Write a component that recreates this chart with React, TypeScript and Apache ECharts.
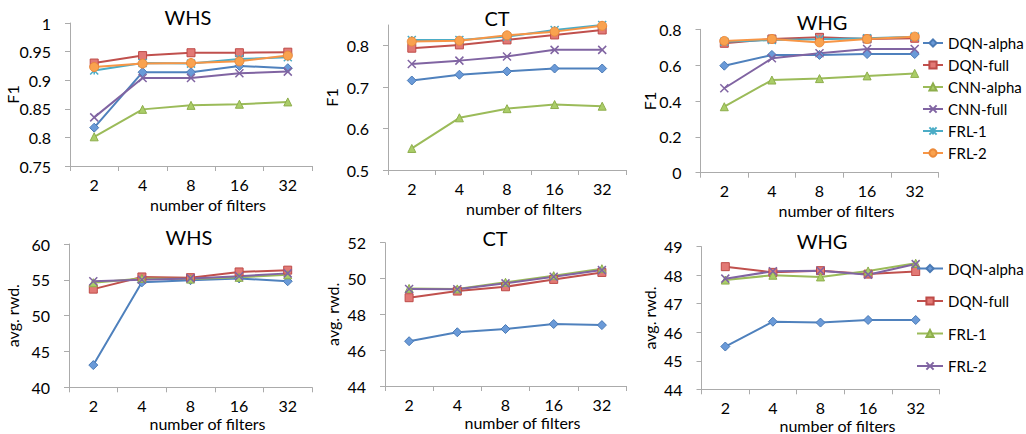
import React, { useEffect, useRef } from "react";
import * as echarts from "echarts";

// ---------- data ----------
const categories = ["2", "4", "8", "16", "32"];

// F1 – WHS
const whsF1DqnAlpha = [0.817, 0.914, 0.914, 0.925, 0.921];
const whsF1DqnFull = [0.93, 0.943, 0.948, 0.948, 0.949];
const whsF1CnnAlpha = [0.801, 0.849, 0.856, 0.858, 0.862];
const whsF1CnnFull = [0.835, 0.904, 0.904, 0.912, 0.915];
const whsF1Frl1 = [0.917, 0.93, 0.929, 0.937, 0.94];
const whsF1Frl2 = [0.923, 0.929, 0.93, 0.933, 0.943];

// F1 – CT
const ctF1DqnAlpha = [0.716, 0.73, 0.738, 0.745, 0.745];
const ctF1DqnFull = [0.794, 0.802, 0.814, 0.826, 0.838];
const ctF1CnnAlpha = [0.552, 0.626, 0.648, 0.658, 0.654];
const ctF1CnnFull = [0.756, 0.764, 0.774, 0.79, 0.79];
const ctF1Frl1 = [0.814, 0.814, 0.822, 0.838, 0.85];
const ctF1Frl2 = [0.81, 0.812, 0.825, 0.834, 0.848];

// F1 – WHG
const whgF1DqnAlpha = [0.597, 0.657, 0.657, 0.662, 0.662];
const whgF1DqnFull = [0.722, 0.746, 0.755, 0.746, 0.75];
const whgF1CnnAlpha = [0.368, 0.517, 0.525, 0.54, 0.554];
const whgF1CnnFull = [0.471, 0.638, 0.666, 0.69, 0.69];
const whgF1Frl1 = [0.731, 0.74, 0.744, 0.75, 0.759];
const whgF1Frl2 = [0.735, 0.746, 0.727, 0.746, 0.759];

// avg. rwd. – WHS
const whsRwdDqnAlpha = [43.1, 54.65, 54.95, 55.2, 54.8];
const whsRwdDqnFull = [53.7, 55.4, 55.3, 56.1, 56.35];
const whsRwdFrl1 = [54.6, 55.2, 55.1, 55.35, 55.7];
const whsRwdFrl2 = [54.8, 55.0, 55.2, 55.5, 55.9];

// avg. rwd. – CT
const ctRwdDqnAlpha = [46.5, 47.0, 47.18, 47.46, 47.4];
const ctRwdDqnFull = [48.93, 49.3, 49.54, 49.95, 50.34];
const ctRwdFrl1 = [49.45, 49.42, 49.79, 50.16, 50.55];
const ctRwdFrl2 = [49.42, 49.4, 49.73, 50.1, 50.47];

// avg. rwd. – WHG
const whgRwdDqnAlpha = [45.5, 46.37, 46.34, 46.43, 46.43];
const whgRwdDqnFull = [48.3, 48.1, 48.16, 48.04, 48.13];
const whgRwdFrl1 = [47.83, 48.0, 47.94, 48.15, 48.42];
const whgRwdFrl2 = [47.88, 48.14, 48.16, 48.02, 48.39];

const topNames = ["DQN-alpha", "DQN-full", "CNN-alpha", "CNN-full", "FRL-1", "FRL-2"];
const bottomNames = ["DQN-alpha", "DQN-full", "FRL-1", "FRL-2"];
const titles = ["WHS", "CT", "WHG", "WHS", "CT", "WHG"];

const yMins = [0.75, 0.5, 0, 40, 44, 44];
const yMaxs = [1, 0.85, 0.8, 60, 52, 49];
const yIntervals = [0.05, 0.1, 0.2, 5, 2, 1];
const ctF1Ticks = [0.5, 0.6, 0.7, 0.8];

// ---------- styles ----------
const FONT = 'Lato, "Open Sans", sans-serif';
const X_PATH = "path://M0,0L10,10M10,0L0,10";
const STAR_PATH = "path://M0,0L10,10M10,0L0,10M5,0L5,10";

type St = { line: string; fill: string; border: string; symbol: string; size: number; bw: number };
const S_BLUE: St = { line: "#4F81BD", fill: "#6A9AD8", border: "#4A7AB5", symbol: "diamond", size: 9, bw: 1 };
const S_RED: St = { line: "#C0504D", fill: "#E27975", border: "#BE4B48", symbol: "rect", size: 8, bw: 1 };
const S_GREEN: St = { line: "#9BBB59", fill: "#AACD68", border: "#8EAE4C", symbol: "triangle", size: 8, bw: 1 };
const S_PURPLE: St = { line: "#8064A2", fill: "#8064A2", border: "#8064A2", symbol: X_PATH, size: 8, bw: 1.5 };
const S_CYAN: St = { line: "#4BACC6", fill: "#4BACC6", border: "#4BACC6", symbol: STAR_PATH, size: 8, bw: 1.5 };
const S_ORANGE: St = { line: "#F79646", fill: "#F9A24F", border: "#EB8A3A", symbol: "circle", size: 9, bw: 1 };

const grids = [
  { left: 70, top: 23, width: 242, height: 143 },
  { left: 388, top: 25, width: 238, height: 145 },
  { left: 700.5, top: 29.3, width: 238, height: 143.4 },
  { left: 69, top: 244, width: 243, height: 143.3 },
  { left: 385, top: 242.7, width: 241, height: 143.3 },
  { left: 701.5, top: 246.7, width: 238, height: 142.6 },
];
const yNameGaps = [49.5, 48.5, 43, 48.5, 44.5, 44];
const xNameGaps = [30, 30, 30, 28, 28, 28];
const yNames = ["F1", "F1", "F1", "avg. rwd.", "avg. rwd.", "avg. rwd."];
const titlePos = [
  [188, 16.5],
  [497, 17.5],
  [822, 21.5],
  [189, 236.5],
  [495, 237.5],
  [822, 240.5],
];

function mk(name: string, data: number[], idx: number, s: St) {
  return {
    type: "line",
    name,
    data,
    xAxisIndex: idx,
    yAxisIndex: idx,
    symbol: s.symbol,
    symbolSize: s.size,
    showSymbol: true,
    lineStyle: { color: s.line, width: 2 },
    itemStyle: { color: s.fill, borderColor: s.border, borderWidth: s.bw },
    emphasis: { disabled: true },
    z: 2,
  };
}

function buildOption() {
  const series: any[] = [];
  const topData = [
    [whsF1DqnAlpha, whsF1DqnFull, whsF1CnnAlpha, whsF1CnnFull, whsF1Frl1, whsF1Frl2],
    [ctF1DqnAlpha, ctF1DqnFull, ctF1CnnAlpha, ctF1CnnFull, ctF1Frl1, ctF1Frl2],
    [whgF1DqnAlpha, whgF1DqnFull, whgF1CnnAlpha, whgF1CnnFull, whgF1Frl1, whgF1Frl2],
  ];
  const topStyles = [S_BLUE, S_RED, S_GREEN, S_PURPLE, S_CYAN, S_ORANGE];
  topData.forEach((arrs, p) => {
    arrs.forEach((d, i) => series.push(mk(topNames[i], d, p, topStyles[i])));
  });
  const botData = [
    [whsRwdDqnAlpha, whsRwdDqnFull, whsRwdFrl1, whsRwdFrl2],
    [ctRwdDqnAlpha, ctRwdDqnFull, ctRwdFrl1, ctRwdFrl2],
    [whgRwdDqnAlpha, whgRwdDqnFull, whgRwdFrl1, whgRwdFrl2],
  ];
  const botStyles = [S_BLUE, S_RED, S_GREEN, S_PURPLE];
  botData.forEach((arrs, p) => {
    arrs.forEach((d, i) => series.push(mk("b:" + bottomNames[i], d, p + 3, botStyles[i])));
  });

  const axisColor = "#ABABAB";
  const xAxis = grids.map((_, i) => ({
    type: "category",
    gridIndex: i,
    data: categories,
    boundaryGap: true,
    axisLine: { show: true, lineStyle: { color: axisColor, width: 1 } },
    axisTick: { show: true, length: 5, inside: false, lineStyle: { color: axisColor } },
    axisLabel: { color: "#000", fontFamily: FONT, fontSize: 16, margin: 10 },
    splitLine: { show: false },
    name: "number of filters",
    nameLocation: "middle",
    nameGap: xNameGaps[i],
    nameMoveOverlap: false,
    nameTextStyle: { color: "#000", fontFamily: FONT, fontSize: 16, padding: [0, 0, 0, 34] },
  }));
  const yAxis = grids.map((_, i) => {
    const ax: any = {
      type: "value",
      gridIndex: i,
      min: yMins[i],
      max: yMaxs[i],
      interval: yIntervals[i],
      axisLine: { show: true, lineStyle: { color: axisColor, width: 1 } },
      axisTick: { show: true, length: 5, inside: false, lineStyle: { color: axisColor } },
      axisLabel: { color: "#000", fontFamily: FONT, fontSize: 16, margin: 19 },
      splitLine: { show: false },
      name: yNames[i],
      nameLocation: "middle",
      nameGap: yNameGaps[i],
      nameMoveOverlap: false,
      nameTextStyle: { color: "#000", fontFamily: FONT, fontSize: 16 },
    };
    if (i === 1) {
      ax.axisTick.customValues = ctF1Ticks;
      ax.axisLabel.customValues = ctF1Ticks;
    }
    return ax;
  });

  const legendText = { color: "#000", fontFamily: FONT, fontSize: 15 };
  const legend = [
    {
      data: topNames,
      orient: "vertical",
      left: 922,
      top: 35.5,
      padding: 0,
      itemWidth: 20,
      itemHeight: 9,
      itemGap: 7,
      selectedMode: false,
      textStyle: legendText,
    },
    {
      data: bottomNames.map((n) => "b:" + n),
      orient: "vertical",
      left: 916,
      top: 261,
      padding: 0,
      itemWidth: 26,
      itemHeight: 9,
      itemGap: 17.5,
      selectedMode: false,
      textStyle: legendText,
      formatter: (n: string) => n.replace(/^b:/, ""),
    },
  ];

  const graphic = titles.map((t, i) => ({
    type: "text",
    x: titlePos[i][0],
    y: titlePos[i][1],
    silent: true,
    style: {
      text: t,
      fill: "#000",
      font: `20px ${FONT}`,
      textAlign: "center",
      textVerticalAlign: "middle",
    },
  }));

  return {
    animation: false,
    backgroundColor: "#fff",
    textStyle: { fontFamily: FONT },
    grid: grids.map((g) => ({ ...g, containLabel: false, outerBoundsMode: "none" })),
    xAxis,
    yAxis,
    legend,
    graphic,
    series,
  };
}

export default function App() {
  const ref = useRef<HTMLDivElement>(null);
  useEffect(() => {
    if (!ref.current) return;
    const chart = echarts.init(ref.current, null, { renderer: "svg" });
    chart.setOption(buildOption() as any);
    return () => chart.dispose();
  }, []);
  return (
    <div
      ref={ref}
      style={{ position: "absolute", left: 0, top: 0, width: 1026, height: 434, background: "#fff" }}
    />
  );
}
